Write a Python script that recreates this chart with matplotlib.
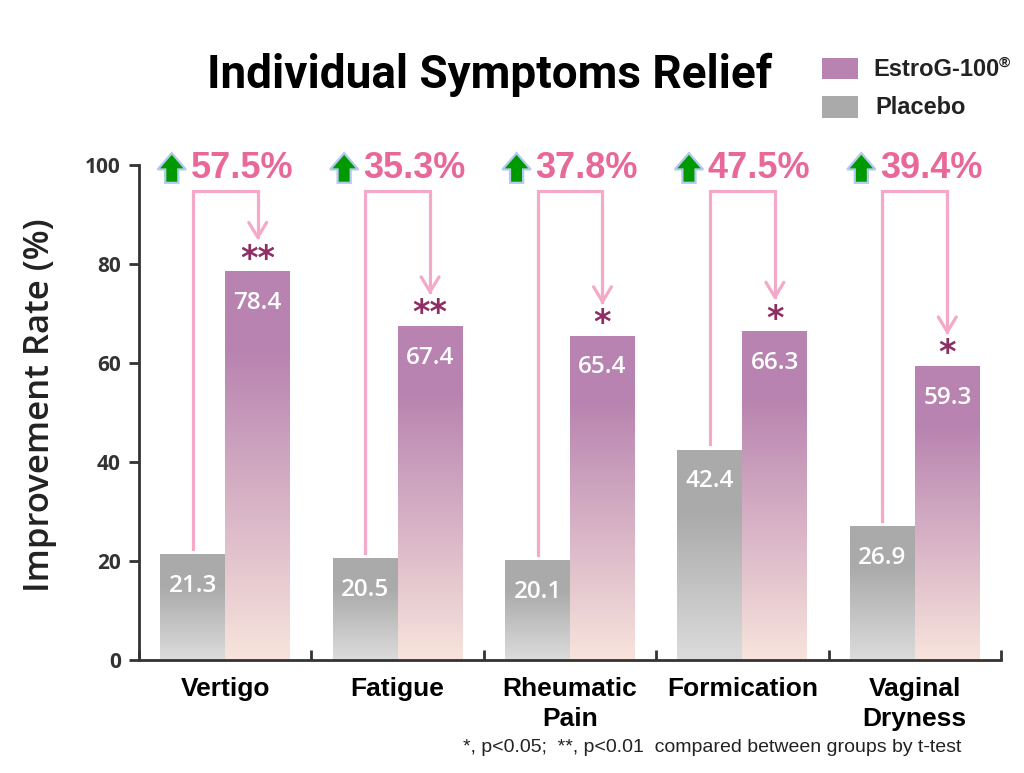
import numpy as np
import matplotlib
matplotlib.use("Agg")
import matplotlib.pyplot as plt
from matplotlib.colors import to_rgb
from matplotlib.patches import Polygon, Rectangle

categories = ["Vertigo", "Fatigue", "Rheumatic\nPain", "Formication", "Vaginal\nDryness"]
placebo = [21.3, 20.5, 20.1, 42.4, 26.9]
estrog = [78.4, 67.4, 65.4, 66.3, 59.3]
increase = ["57.5%", "35.3%", "37.8%", "47.5%", "39.4%"]
signif = ["**", "**", "*", "*", "*"]
yticks = [0, 20, 40, 60, 80, 100]

W, H = 1024, 773
PURPLE = "#b883b0"
PEACH = "#f8e4dc"
GRAY = "#aaaaaa"
LIGHTGRAY = "#dcdcdc"
PINK_LINE = "#f5a9c9"
PINK_TEXT = "#e8689a"
STAR = "#8e2f64"
AXIS = "#333333"

num_font = ["Open Sans", "DejaVu Sans"]
arial = ["Liberation Sans", "DejaVu Sans"]


def fx(px):
    return px / W


def fy(py):
    return 1 - py / H


def gradient(top, bottom, solid, n=256):
    t = np.linspace(0, 1, n)
    f = np.clip((t - solid) / (1 - solid), 0, 1)[:, None]
    c = np.array(to_rgb(top)) * (1 - f) + np.array(to_rgb(bottom)) * f
    return c[:, None, :]


fig = plt.figure(figsize=(W / 100, H / 100), dpi=100)
ax = fig.add_axes([fx(139), fy(660), fx(1001) - fx(139), fy(165) - fy(660)])

x = np.arange(len(categories))
bw = 0.377
bars_p = ax.bar(x - bw / 2, placebo, bw, color="none", edgecolor="none")
bars_e = ax.bar(x + bw / 2, estrog, bw, color="none", edgecolor="none")

for bars, top, bottom, solid in [(bars_p, GRAY, LIGHTGRAY, 0.3), (bars_e, PURPLE, PEACH, 0.2)]:
    img = gradient(top, bottom, solid)
    for b in bars:
        x0, h = b.get_x(), b.get_height()
        ax.imshow(img, extent=(x0, x0 + b.get_width(), 0, h), aspect="auto",
                  origin="upper", zorder=2, interpolation="bilinear")

ax.set_xlim(-0.5, len(categories) - 0.5)
ax.set_ylim(0, 100)

# value labels
for b in list(bars_p) + list(bars_e):
    h = b.get_height()
    ax.text(b.get_x() + b.get_width() / 2, h - 6.3, f"{h:.1f}", ha="center", va="center",
            color="white", fontsize=17.5, fontweight="semibold", family=num_font, zorder=4)

# connector arrows, stars, increase labels
for i in range(len(categories)):
    xp, xe = x[i] - bw / 2, x[i] + bw / 2
    vp, ve = placebo[i], estrog[i]
    tip = ve + 7
    ax.plot([xp, xp, xe, xe], [vp + 1.2, 94.7, 94.7, tip], color=PINK_LINE, lw=2.3,
            clip_on=False, solid_joinstyle="miter", zorder=3)
    ax.plot([xe - 0.052, xe, xe + 0.052], [tip + 3.0, tip, tip + 3.0], color=PINK_LINE,
            lw=2.3, clip_on=False, solid_capstyle="round", zorder=3)
    ax.text(xe, ve + 0.6, signif[i], ha="center", va="baseline", color=STAR,
            fontsize=24, fontweight="bold", family=["DejaVu Sans"], zorder=4)
    ax.text(x[i] - 0.2, 99.2, increase[i], ha="left", va="center", color=PINK_TEXT,
            fontsize=26, fontweight="bold", family=arial, clip_on=False)
    # green up arrow icon
    cx, cy = x[i] - 0.31, 99.4
    hw, sw, hh = 0.082, 0.038, 3.3
    pts = [(cx - sw, cy - 3.0), (cx + sw, cy - 3.0), (cx + sw, cy + 3.0 - hh),
           (cx + hw, cy + 3.0 - hh), (cx, cy + 3.0), (cx - hw, cy + 3.0 - hh),
           (cx - sw, cy + 3.0 - hh)]
    ax.add_patch(Polygon(pts, closed=True, facecolor="#009a00", edgecolor="#b3c9ee",
                         lw=1.6, clip_on=False, zorder=3))

# axes styling
for s in ["top", "right"]:
    ax.spines[s].set_visible(False)
for s in ["left", "bottom"]:
    ax.spines[s].set_linewidth(2.0)
    ax.spines[s].set_color(AXIS)
ax.set_yticks(yticks)
ax.set_yticklabels([str(v) for v in yticks], fontsize=15, fontweight="bold",
                   family=num_font, color=AXIS)
ax.tick_params(axis="y", direction="out", length=7, width=2, color=AXIS, pad=6)
ax.set_xticks(np.arange(len(categories) + 1) - 0.5)
ax.set_xticklabels([])
ax.tick_params(axis="x", direction="in", length=7, width=2, color=AXIS)
for i, c in enumerate(categories):
    ax.text(x[i], -3.4, c, ha="center", va="top", fontsize=19, fontweight="bold",
            family=arial, linespacing=1.35, clip_on=False)
ax.set_ylabel("Improvement Rate (%)", fontsize=25, fontweight="semibold",
              family=num_font, color="#222222")
ax.yaxis.set_label_coords(-0.095, 0.515)

# title
fig.text(fx(490), fy(75), "Individual Symptoms Relief", ha="center", va="center",
         fontsize=33, fontweight="bold", family=["Roboto", "Liberation Sans"])

# legend
fig.patches.append(Rectangle((fx(822), fy(79)), fx(36), fy(58) - fy(79), facecolor=PURPLE,
                             transform=fig.transFigure, figure=fig))
fig.patches.append(Rectangle((fx(822), fy(118)), fx(36), fy(96) - fy(118), facecolor=GRAY,
                             transform=fig.transFigure, figure=fig))
fig.text(fx(873), fy(69), "EstroG-100", ha="left", va="center", fontsize=17,
         fontweight="bold", family=arial, color="#222222")
fig.text(fx(999), fy(63), "®", ha="left", va="center", fontsize=11,
         fontweight="bold", family=arial, color="#222222")
fig.text(fx(875), fy(107), "Placebo", ha="left", va="center", fontsize=17,
         fontweight="bold", family=arial, color="#222222")

# footnote
fig.text(fx(463), fy(748), "*, p<0.05;  **, p<0.01  compared between groups by t-test",
         ha="left", va="center", fontsize=14, family=arial, color="#222222")

fig.savefig("out.png", dpi=100)
